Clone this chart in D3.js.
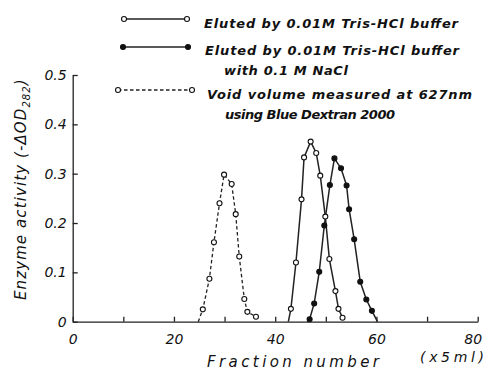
<!DOCTYPE html>
<html>
<head>
<meta charset="utf-8">
<script src="https://cdn.jsdelivr.net/npm/d3@7"></script>
<style>
  body { margin: 0; background: #fff; }
  svg text { font-family: "DejaVu Sans", sans-serif; font-style: italic; fill: #111; }
</style>
</head>
<body>
<svg width="487" height="374"></svg>
<script>
// data
const openX = [43.1, 44.1, 45.2, 45.7, 47.0, 48.1, 48.9, 49.9, 50.7, 51.9, 52.5, 53.3];
const openY = [0.026, 0.120, 0.248, 0.333, 0.365, 0.342, 0.296, 0.213, 0.127, 0.062, 0.026, 0.008];
const openStart = 42.6;

const filledX = [46.8, 47.7, 48.7, 49.7, 50.8, 51.7, 53.0, 54.1, 54.6, 55.6, 56.8, 58.0, 59.1];
const filledY = [0.005, 0.037, 0.101, 0.195, 0.277, 0.331, 0.311, 0.276, 0.228, 0.167, 0.081, 0.045, 0.022];
const filledStart = 46.4;
const filledEnd = 60.2;

const voidX = [25.7, 27.0, 27.9, 29.0, 29.9, 31.4, 32.2, 32.9, 33.9, 34.5, 36.2];
const voidY = [0.025, 0.087, 0.161, 0.240, 0.298, 0.279, 0.218, 0.132, 0.046, 0.020, 0.010];
const voidStart = 24.8;

const xTicks = [0, 10, 20, 30, 40, 50, 60, 70, 80];
const xTickLabels = [0, 20, 40, 60, 80];
const yTicks = [0, 0.1, 0.2, 0.3, 0.4, 0.5];

const svg = d3.select("svg");
const margin = { top: 75, left: 72.7, right: 9.3, bottom: 52.3 };
const width = +svg.attr("width");
const height = +svg.attr("height");
const innerWidth = width - margin.left - margin.right;
const innerHeight = height - margin.top - margin.bottom;

const xScale = d3.scaleLinear().domain([0, 80]).range([0, innerWidth]);
const yScale = d3.scaleLinear().domain([0, 0.5]).range([innerHeight, 0]);

const g = svg.append("g").attr("transform", `translate(${margin.left},${margin.top})`);

// axes, ticks pointing inward
const xAxis = d3.axisBottom(xScale).tickValues(xTicks).tickSizeInner(-5).tickSizeOuter(0)
  .tickFormat(d => xTickLabels.includes(d) ? d : "");
const xAxisG = g.append("g").attr("transform", `translate(0,${innerHeight})`).call(xAxis);
xAxisG.selectAll("text").attr("y", 12).attr("dy", "0.71em").style("font-size", "14px")
  .attr("dx", d => d === 80 ? -5 : 0);

const yAxis = d3.axisLeft(yScale).tickValues(yTicks).tickSizeInner(-5).tickSizeOuter(0)
  .tickFormat(d => d === 0 ? "0" : d3.format(".1f")(d));
const yAxisG = g.append("g").call(yAxis);
yAxisG.selectAll("text").attr("x", -6).style("font-size", "14px");

g.selectAll(".domain, .tick line").attr("stroke", "#222").attr("stroke-width", 1.3);
g.selectAll(".tick text").style("font-family", '"DejaVu Sans", sans-serif').style("font-style", "italic").attr("fill", "#111");

// axis titles
const yLabel = svg.append("text")
  .attr("transform", "translate(26,300) rotate(-90)")
  .style("font-size", "15px")
  .style("letter-spacing", "1.1px");
yLabel.append("tspan").text("Enzyme activity (-ΔOD");
yLabel.append("tspan").text("282").attr("dy", 4).style("font-size", "10px");
yLabel.append("tspan").text(")").attr("dy", -4);

svg.append("text").text("Fraction number")
  .attr("x", 207).attr("y", 367)
  .attr("textLength", 172).attr("lengthAdjust", "spacing")
  .style("font-size", "15px");
svg.append("text").text("(x5ml)")
  .attr("x", 420).attr("y", 362)
  .attr("textLength", 64).attr("lengthAdjust", "spacing")
  .style("font-size", "14px");

// curves
const line = d3.line().x(d => xScale(d[0])).y(d => yScale(d[1]));

const openPts = openX.map((x, i) => [x, openY[i]]);
const filledPts = filledX.map((x, i) => [x, filledY[i]]);
const voidPts = voidX.map((x, i) => [x, voidY[i]]);

g.append("path").datum([[voidStart, 0], ...voidPts])
  .attr("d", line).attr("fill", "none").attr("stroke", "#222")
  .attr("stroke-width", 1.3).attr("stroke-dasharray", "3.5,2.5");
g.append("path").datum([[openStart, 0], ...openPts])
  .attr("d", line).attr("fill", "none").attr("stroke", "#222").attr("stroke-width", 1.5);
g.append("path").datum([[filledStart, 0], ...filledPts, [filledEnd, 0]])
  .attr("d", line).attr("fill", "none").attr("stroke", "#222").attr("stroke-width", 1.5);

const drawMarkers = (pts, filled) => {
  g.append("g").selectAll("circle").data(pts).join("circle")
    .attr("cx", d => xScale(d[0])).attr("cy", d => yScale(d[1]))
    .attr("r", 2.5)
    .attr("fill", filled ? "#111" : "#fff")
    .attr("stroke", "#111").attr("stroke-width", 1.1);
};
drawMarkers(voidPts, false);
drawMarkers(openPts, false);
drawMarkers(filledPts, true);

// legend
const legend = [
  { x1: 124, x2: 187, y: 19, filled: false, dash: null,
    lines: [{ t: "Eluted by 0.01M Tris-HCl buffer", x: 204, y: 28, len: 254 }] },
  { x1: 123, x2: 188, y: 47, filled: true, dash: null,
    lines: [{ t: "Eluted by 0.01M Tris-HCl buffer", x: 205, y: 55, len: 254 },
            { t: "with 0.1 M NaCl", x: 224, y: 75, len: 124 }] },
  { x1: 118, x2: 192, y: 90, filled: false, dash: "3.5,2.5",
    lines: [{ t: "Void volume measured at 627nm", x: 207, y: 99, len: 265 },
            { t: "using Blue Dextran 2000", x: 225, y: 119, len: 170 }] }
];
legend.forEach(item => {
  svg.append("line")
    .attr("x1", item.x1).attr("x2", item.x2).attr("y1", item.y).attr("y2", item.y)
    .attr("stroke", "#222").attr("stroke-width", 1.5)
    .attr("stroke-dasharray", item.dash);
  [item.x1, item.x2].forEach(cx => {
    svg.append("circle").attr("cx", cx).attr("cy", item.y).attr("r", 2.5)
      .attr("fill", item.filled ? "#111" : "#fff").attr("stroke", "#111").attr("stroke-width", 1.1);
  });
  item.lines.forEach(l => {
    svg.append("text").text(l.t)
      .attr("x", l.x).attr("y", l.y)
      .attr("textLength", l.len).attr("lengthAdjust", "spacing")
      .style("font-size", "13px").style("font-weight", "bold");
  });
});
</script>
</body>
</html>
